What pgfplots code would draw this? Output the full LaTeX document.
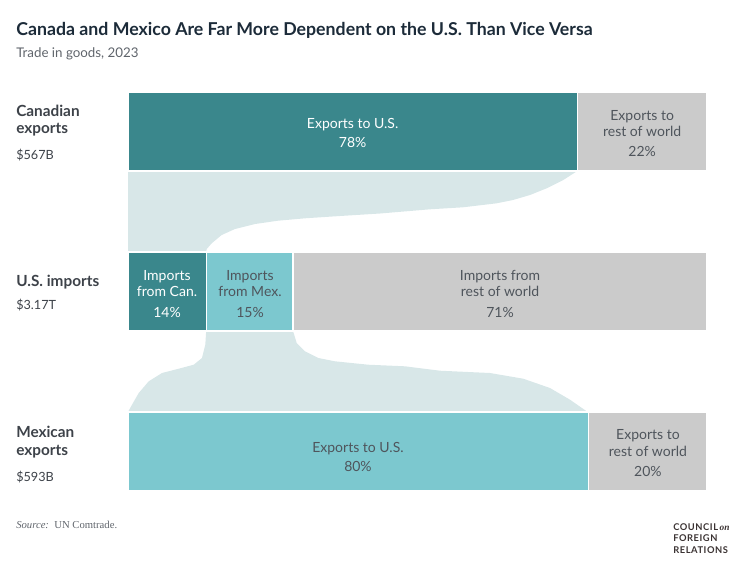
\documentclass[border=0pt]{standalone}
\usepackage{fontspec}
\setmainfont{Lato}
\newfontfamily\srcfont{Liberation Serif}
\usepackage{pgfplots}
\pgfplotsset{compat=1.18}
\definecolor{tealD}{HTML}{3A878C}
\definecolor{tealL}{HTML}{7CC8CF}
\definecolor{grayB}{HTML}{CBCBCB}
\definecolor{flowc}{HTML}{D8E7E8}
\definecolor{titlec}{HTML}{1C2B39}
\definecolor{labc}{HTML}{3D4249}
\definecolor{subc}{HTML}{5F646B}
\definecolor{bartxt}{HTML}{4F555C}
\definecolor{logoc}{HTML}{3B3333}
\tikzset{ll/.style={anchor=base west, inner sep=0, text=labc, font=\fontsize{11.5}{13}\selectfont\bfseries},
         lv/.style={anchor=base west, inner sep=0, text=labc, font=\fontsize{9.5}{12}\selectfont},
         bl/.style={anchor=base, inner sep=0, font=\fontsize{10.5}{12}\selectfont},
         lg/.style={anchor=base west, inner sep=0, text=logoc, font=\addfontfeature{LetterSpace=6}\fontsize{7}{8}\selectfont\bfseries}}
\begin{document}
\begin{tikzpicture}[x=0.75pt,y=-0.75pt]
\path[use as bounding box] (0,0) rectangle (756,571);
% titles
\node[anchor=base west, inner sep=0, text=titlec, font=\fontsize{13.3}{15}\selectfont\bfseries] at (16,36) {Canada and Mexico Are Far More Dependent on the U.S. Than Vice Versa};
\node[anchor=base west, inner sep=0, text=subc, font=\fontsize{10}{12}\selectfont] at (16,57.5) {Trade in goods, 2023};
% left labels
\node[ll] at (16,116.7) {Canadian};
\node[ll] at (16,133) {exports};
\node[lv] at (16,159) {\$567B};
\node[ll] at (16,286.7) {U.S. imports};
\node[lv] at (16,309) {\$3.17T};
\node[ll] at (16,437.3) {Mexican};
\node[ll] at (16,455) {exports};
\node[lv] at (16,481) {\$593B};
% source
\node[anchor=base west, inner sep=0, text=subc, font=\srcfont\fontsize{8}{9}\selectfont] at (16,528.3) {\textit{Source:}\ \ UN Comtrade.};
% logo
\node[lg] at (673,530) {COUNCIL\,{\srcfont\itshape\fontsize{7}{8}\selectfont on}};
\node[lg] at (673,541.7) {FOREIGN};
\node[lg] at (673,553) {RELATIONS};

\begin{axis}[at={(96pt,-69pt)}, anchor=north west,
  x=4.3425pt, y=0.75pt, y dir=reverse,
  xmin=0, xmax=100, ymin=92, ymax=491,
  hide axis, clip=false]
% flows
\addplot[fill=flowc, draw=none] coordinates {
 (0,171) (77.6,171) (75.18,180) (72.31,188.3) (69.43,195) (66.49,200) (63.68,203.3)
 (57.86,207.3) (52.16,209.3) (43.52,213.5) (36.61,216) (30.57,218.3) (25.91,220.7)
 (21.93,224) (18.48,229) (16.18,235) (14.46,243.3) (13.6,249) (13.5,252) (0,252)} --cycle;
\addplot[fill=flowc, draw=none] coordinates {
 (13.5,331) (28.5,331) (29.14,343) (30.57,351.3) (32.87,358) (35.75,361.3) (41.50,364.7)
 (47.84,366.3) (53.89,370.7) (62.52,373) (68.27,378.7) (72.88,388) (76.34,399.7)
 (79.22,411.3) (79.5,412) (0,412) (0.69,404.7) (1.85,393) (3.58,381.3) (5.87,373)
 (8.76,368.7) (11.35,364.7) (12.78,358) (13.35,344.7)} --cycle;
% bars
\addplot[fill=tealD, draw=white, line width=0.8pt] coordinates {(0,92) (77.6,92) (77.6,171) (0,171)} --cycle;
\addplot[fill=grayB, draw=white, line width=0.8pt] coordinates {(77.6,92) (100,92) (100,171) (77.6,171)} --cycle;
\addplot[fill=tealD, draw=white, line width=0.8pt] coordinates {(0,252) (13.5,252) (13.5,331) (0,331)} --cycle;
\addplot[fill=tealL, draw=white, line width=0.8pt] coordinates {(13.5,252) (28.5,252) (28.5,331) (13.5,331)} --cycle;
\addplot[fill=grayB, draw=white, line width=0.8pt] coordinates {(28.5,252) (100,252) (100,331) (28.5,331)} --cycle;
\addplot[fill=tealL, draw=white, line width=0.8pt] coordinates {(0,412) (79.5,412) (79.5,491) (0,491)} --cycle;
\addplot[fill=grayB, draw=white, line width=0.8pt] coordinates {(79.5,412) (100,412) (100,491) (79.5,491)} --cycle;
% bar labels
\node[bl, text=white] at (axis cs:38.8,128) {Exports to U.S.};
\node[bl, text=white] at (axis cs:38.8,147.7) {78\%};
\node[bl, text=bartxt] at (axis cs:88.8,120) {Exports to};
\node[bl, text=bartxt] at (axis cs:88.8,136.7) {rest of world};
\node[bl, text=bartxt] at (axis cs:88.8,156) {22\%};
\node[bl, text=white] at (axis cs:6.74,280) {Imports};
\node[bl, text=white] at (axis cs:6.74,296.7) {from Can.};
\node[bl, text=white] at (axis cs:6.74,317.7) {14\%};
\node[bl, text=bartxt] at (axis cs:21.07,280) {Imports};
\node[bl, text=bartxt] at (axis cs:21.07,296.7) {from Mex.};
\node[bl, text=bartxt] at (axis cs:21.07,317.7) {15\%};
\node[bl, text=bartxt] at (axis cs:64.25,280) {Imports from};
\node[bl, text=bartxt] at (axis cs:64.25,296.7) {rest of world};
\node[bl, text=bartxt] at (axis cs:64.25,317.7) {71\%};
\node[bl, text=bartxt] at (axis cs:39.72,452.7) {Exports to U.S.};
\node[bl, text=bartxt] at (axis cs:39.72,471) {80\%};
\node[bl, text=bartxt] at (axis cs:89.8,439.3) {Exports to};
\node[bl, text=bartxt] at (axis cs:89.8,456) {rest of world};
\node[bl, text=bartxt] at (axis cs:89.8,476) {20\%};
\end{axis}
\end{tikzpicture}
\end{document}
